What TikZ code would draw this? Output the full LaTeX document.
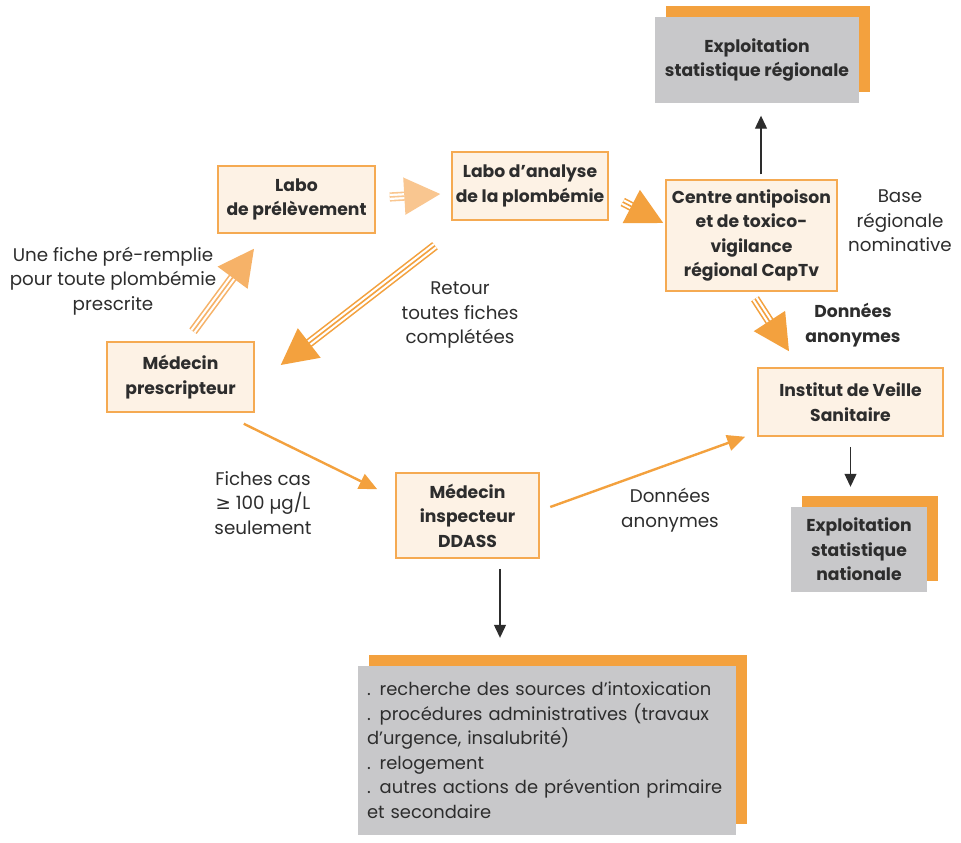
\documentclass[tikz,border=0pt]{standalone}
\usepackage{fontspec}
\setmainfont{Poppins}
\newfontfamily\symfont{DejaVu Sans}
\usetikzlibrary{arrows.meta,shadows}

\definecolor{ink}{RGB}{45,45,45}
\definecolor{boxline}{RGB}{245,170,82}
\definecolor{boxfill}{RGB}{253,242,229}
\definecolor{greyfill}{RGB}{200,200,202}
\definecolor{deeporg}{RGB}{243,161,62}
\definecolor{midorg}{RGB}{246,178,104}
\definecolor{paleorg}{RGB}{249,198,144}

\newcommand\labelsize{\fontsize{18.3}{24.5}\selectfont}
\newcommand\boldsize{\fontsize{17.2}{24.5}\selectfont\bfseries}

\def\boxlist{{(296.5,199.5)/prel/157/67/{Labo\\de prélèvement}},
  {(530,186)/analyse/156/68/{Labo d’analyse\\de la plombémie}},
  {(751.5,235.5)/capt/171/111/{Centre antipoison\\et de toxico-\\vigilance\\régional CapTv}},
  {(180.5,377)/presc/147/70/{Médecin\\prescripteur}},
  {(467.5,515.5)/ddass/143/85/{Médecin\\inspecteur\\DDASS}},
  {(850.5,402)/ivs/185/68/{Institut de Veille\\Sanitaire}}}

\tikzstyle{box}=[draw=boxline, fill=boxfill, line width=1.5pt, align=center, font=\boldsize, text=ink, inner sep=0pt]
\tikzstyle{grey-box}=[fill=greyfill, font=\boldsize, text=ink, inner sep=0pt, general shadow={fill=deeporg, shadow xshift=11pt, shadow yshift=11pt}]
\tikzstyle{note}=[align=center, text=ink, font=\labelsize]
\tikzstyle{shaft}=[line width=1.6pt, double distance=6pt, shorten >=20pt]
\tikzstyle{head}=[line width=1.6pt, -{Triangle[length=36pt,width=37pt]}]
\tikzstyle{flow}=[draw=deeporg, line width=2.4pt, -{Triangle[length=18pt,width=16pt]}]
\tikzstyle{down}=[draw=ink, line width=1.2pt, -{Triangle[length=13pt,width=12pt]}]

\begin{document}
\begin{tikzpicture}[x=1pt, y=-1pt]
  \useasboundingbox (0,0) rectangle (961,843);

  % cream boxes
  \foreach \pos/\name/\w/\h/\txt in \boxlist {
    \node[box, minimum width=\w pt, minimum height=\h pt] (\name) at \pos {\txt};
  }

  % grey boxes with orange backing
  \node[grey-box, align=center, minimum width=204pt, minimum height=85pt] (reg) at (757,60) {Exploitation\\statistique régionale};
  \node[grey-box, align=center, minimum width=136pt, minimum height=85pt] (nat) at (859,549.5) {Exploitation\\statistique\\nationale};
  \node[grey-box, font=\fontsize{17.9}{24.5}\selectfont, align=left, text width=360pt, inner xsep=9pt, minimum height=169pt] (acts) at (547,750.5)
    {. recherche des sources d’intoxication\\. procédures administratives (travaux\\d’urgence, insalubrité)\\. relogement\\. autres actions de prévention primaire\\et secondaire};

  % free texts
  \node[note] (fiche) at (113,281) {Une fiche pré-remplie\\pour toute plombémie\\prescrite};
  \node[note] (retour) at (460,315) {Retour\\toutes fiches\\complétées};
  \node[note] (base) at (900,221) {Base\\régionale\\nominative};
  \node[note, font=\boldsize] (anon1) at (853,325) {Données\\anonymes};
  \node[note] (cas) at (263,503) {Fiches cas\\{\symfont ≥} 100 µg/L\\seulement};
  \node[note] (anon2) at (670,510) {Données\\anonymes};

  % ends of the triple arrows
  \coordinate (t1s) at ([shift={(14pt,2.5pt)}]prel.east);
  \coordinate (t1e) at ([shift={(-11pt,-8pt)}]analyse.west);
  \coordinate (t2s) at ([shift={(12.5pt,10pt)}]presc.north);
  \coordinate (t2e) at ([shift={(-42.5pt,-15pt)}]prel.south);
  \coordinate (t3s) at ([shift={(-95pt,-25pt)}]analyse.south);
  \coordinate (t3e) at ([shift={(26pt,12pt)}]presc.east);
  \coordinate (t4s) at ([shift={(14pt,-16pt)}]analyse.east);
  \coordinate (t4e) at ([shift={(-2pt,12.5pt)}]capt.west);
  \coordinate (t5s) at ([shift={(3.5pt,-7pt)}]capt.south);
  \coordinate (t5e) at ([shift={(-61.5pt,16pt)}]ivs.north);

  \foreach \s/\t/\col in {t1s/t1e/paleorg, t2s/t2e/midorg, t3s/t3e/deeporg, t4s/t4e/deeporg, t5s/t5e/deeporg} {
    \draw[shaft, \col] (\s) -- (\t);
    \draw[head, \col] (\s) -- (\t);
  }

  % single orange arrows
  \draw[flow] ([shift={(-11pt,-11pt)}]presc.south east) -- ([shift={(-18pt,-17pt)}]ddass.north west);
  \draw[flow] ([shift={(10.5pt,8.5pt)}]ddass.east) -- ([shift={(-12pt,0pt)}]ivs.south west);

  % black arrows
  \coordinate (cx) at ([xshift=9.5pt]capt.north);
  \coordinate (dx) at ([xshift=32.5pt]ddass.south);
  \draw[down, shorten <=5pt, shorten >=13pt] (cx) -- (cx |- reg.south);
  \draw[down, shorten <=10pt, shorten >=20pt] (ivs.south) -- (ivs.south |- nat.north);
  \draw[down, shorten <=10pt, shorten >=28pt] (dx) -- (dx |- acts.north);
\end{tikzpicture}
\end{document}
